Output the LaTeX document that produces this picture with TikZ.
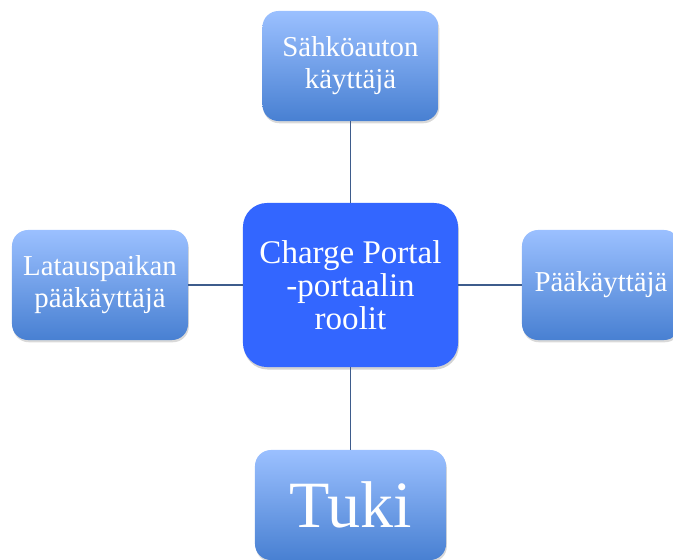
\documentclass[tikz,border=0pt]{standalone}
\usepackage{fontspec}
\setmainfont{Liberation Serif}
\usepackage{xcolor}
\usetikzlibrary{shadows}

\definecolor{boxtop}{RGB}{155,192,255}
\definecolor{boxbot}{RGB}{72,128,210}
\definecolor{mainblue}{RGB}{51,102,255}
\definecolor{linkcol}{RGB}{62,92,140}

\begin{document}
\begin{tikzpicture}[x=0.025cm, y=-0.025cm,
    role/.style={rounded corners=0.4cm, top color=boxtop, bottom color=boxbot,
        minimum width=4.4cm, minimum height=2.75cm, inner sep=0pt, align=center,
        text=white, font=\fontsize{20.5}{22.8}\selectfont,
        drop shadow={opacity=0.3, shadow xshift=0.6pt, shadow yshift=-1.6pt}},
    hub/.style={rounded corners=0.6cm, fill=mainblue,
        minimum width=5.375cm, minimum height=4.1cm, inner sep=0pt, align=center,
        text=white, font=\fontsize{23.5}{23.5}\selectfont,
        drop shadow={opacity=0.35, shadow xshift=0.6pt, shadow yshift=-1.8pt}},
    link/.style={draw=linkcol, line width=1.1pt}]
    \clip (0,0) rectangle (673,560);

    \node (roolit) at (350.5, 285) [hub] {Charge Portal\\-portaalin\\roolit};
    \node (auto) at (350.5, 66) [role] {Sähköauton\\käyttäjä};
    \node (lataus) at (100, 285) [role] {Latauspaikan\\pääkäyttäjä};
    \node (paa) at (601, 285) [role, minimum width=3.95cm] {Pääkäyttäjä};
    \node (tuki) at (350.5, 505) [role, minimum width=4.775cm, font=\fontsize{47}{47}\selectfont] {Tuki};

    \draw [link] (auto) -- (roolit) -- (tuki);
    \draw [link] (lataus) -- (roolit) -- (paa);
\end{tikzpicture}
\end{document}
